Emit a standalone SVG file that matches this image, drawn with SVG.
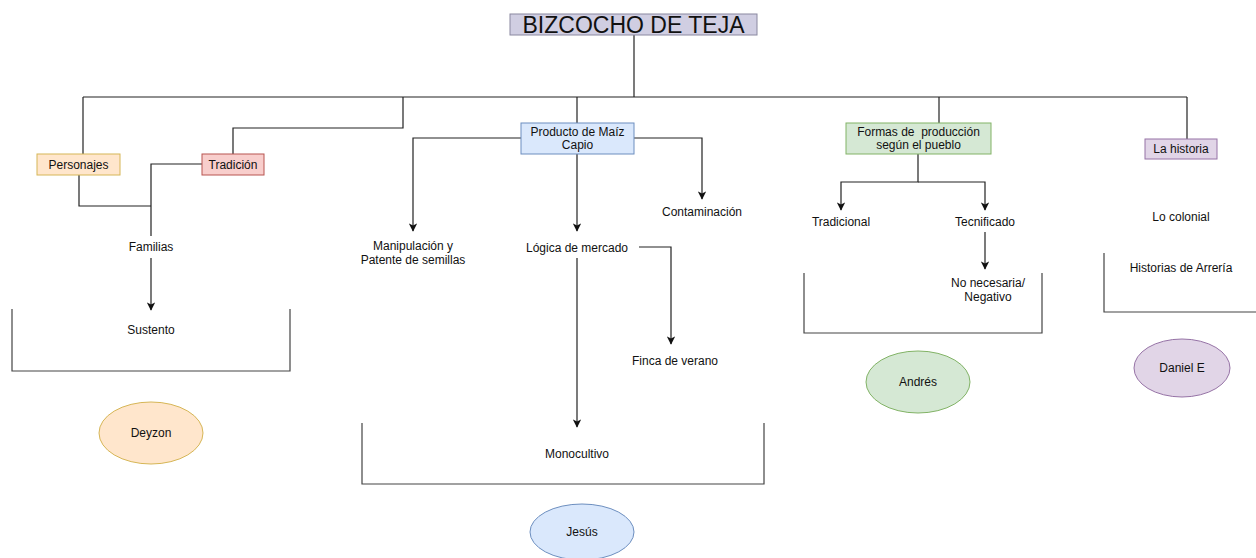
<svg xmlns="http://www.w3.org/2000/svg" width="1256" height="558" viewBox="0 0 1256 558">
<style>
text{font-family:"Liberation Sans",Arial,sans-serif;font-size:12px;fill:#111;text-anchor:middle}
.ln{fill:none;stroke:#222;stroke-width:1.2}
.br{fill:none;stroke:#444;stroke-width:1.2}
.title{font-size:23px}
</style>
<defs>
<marker id="ar" viewBox="0 0 10 10" refX="9" refY="5" markerWidth="9" markerHeight="8.5" markerUnits="userSpaceOnUse" orient="auto">
<path d="M0,0 L10,5 L0,10 L2.5,5 Z" fill="#111"/>
</marker>
</defs>
<rect width="1256" height="558" fill="#fff"/>
<g id="connectors">
<path class="ln" d="M634,35 V97"/>
<path class="ln" d="M83,97 H1187"/>
<path class="ln" d="M83,97 V154"/>
<path class="ln" d="M403,97 V128 H233 V154"/>
<path class="ln" d="M577,97 V123"/>
<path class="ln" d="M939,97 V123"/>
<path class="ln" d="M1187,97 V139"/>
<path class="ln" d="M79,175 V206 H151"/>
<path class="ln" d="M202,164 H151 V236"/>
<path class="ln" d="M151,258 V310" marker-end="url(#ar)"/>
<path class="ln" d="M521,138 H413 V231" marker-end="url(#ar)"/>
<path class="ln" d="M577,154 V231" marker-end="url(#ar)"/>
<path class="ln" d="M634,138 H702 V199" marker-end="url(#ar)"/>
<path class="ln" d="M639,247 H671 V344" marker-end="url(#ar)"/>
<path class="ln" d="M577,258 V427" marker-end="url(#ar)"/>
<path class="ln" d="M918,154 V182 H841 V210" marker-end="url(#ar)"/>
<path class="ln" d="M918,182 H985 V210" marker-end="url(#ar)"/>
<path class="ln" d="M985,232 V269" marker-end="url(#ar)"/>
<path class="br" d="M12,309 V371 H290 V309"/>
<path class="br" d="M362,423 V484 H764 V423"/>
<path class="br" d="M804,273 V333 H1042 V273"/>
<path class="br" d="M1104,253 V312 H1256"/>
</g>
<g id="title">
<rect x="510" y="14" width="247" height="21" fill="#d0cee2" stroke="#8a88a0"/>
<text class="title" x="633.5" y="32.5">BIZCOCHO DE TEJA</text>
</g>
<g id="personajes">
<rect x="37" y="154" width="83" height="21" fill="#ffe6cc" stroke="#d6b656"/>
<text x="78.5" y="168.5">Personajes</text>
</g>
<g id="tradicion">
<rect x="202" y="154" width="62" height="21" fill="#f8cecc" stroke="#b85450"/>
<text x="233" y="168.5">Tradición</text>
</g>
<g id="familias"><text x="151" y="251">Familias</text></g>
<g id="sustento"><text x="151" y="334">Sustento</text></g>
<g id="deyzon">
<ellipse cx="151" cy="433" rx="52" ry="31" fill="#ffe6cc" stroke="#d6b656"/>
<text x="151" y="437">Deyzon</text>
</g>
<g id="producto">
<rect x="521" y="123" width="113" height="31" fill="#dae8fc" stroke="#6c8ebf"/>
<text x="577.5" y="136">Producto de Maíz</text>
<text x="577.5" y="149">Capio</text>
</g>
<g id="manipulacion">
<text x="413" y="250">Manipulación y</text>
<text x="413" y="264">Patente de semillas</text>
</g>
<g id="logica"><text x="577" y="252">Lógica de mercado</text></g>
<g id="contaminacion"><text x="702" y="216">Contaminación</text></g>
<g id="finca"><text x="675" y="365">Finca de verano</text></g>
<g id="monocultivo"><text x="577" y="458">Monocultivo</text></g>
<g id="jesus">
<ellipse cx="582" cy="532" rx="52" ry="28" fill="#dae8fc" stroke="#6c8ebf"/>
<text x="582" y="536">Jesús</text>
</g>
<g id="formas">
<rect x="846" y="123" width="145" height="31" fill="#d5e8d4" stroke="#82b366"/>
<text x="918.5" y="136" xml:space="preserve">Formas de  producción</text>
<text x="918.5" y="149">según el pueblo</text>
</g>
<g id="tradicional"><text x="841" y="226">Tradicional</text></g>
<g id="tecnificado"><text x="985" y="226">Tecnificado</text></g>
<g id="nonecesaria">
<text x="988" y="287">No necesaria/</text>
<text x="988" y="301">Negativo</text>
</g>
<g id="andres">
<ellipse cx="918" cy="382" rx="52" ry="31" fill="#d5e8d4" stroke="#82b366"/>
<text x="918" y="386">Andrés</text>
</g>
<g id="historia">
<rect x="1145" y="139" width="72" height="20" fill="#e1d5e7" stroke="#9673a6"/>
<text x="1181" y="153">La historia</text>
</g>
<g id="colonial"><text x="1181" y="221">Lo colonial</text></g>
<g id="arreria"><text x="1181" y="272">Historias de Arrería</text></g>
<g id="daniel">
<ellipse cx="1182" cy="368" rx="48" ry="29" fill="#e1d5e7" stroke="#9673a6"/>
<text x="1182" y="372">Daniel E</text>
</g>
</svg>
